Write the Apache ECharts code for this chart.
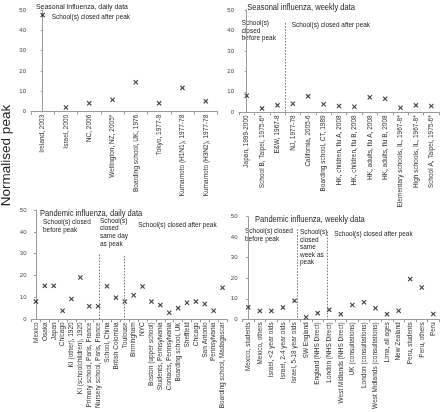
<!DOCTYPE html>
<html><head><meta charset="utf-8">
<script src="https://cdn.jsdelivr.net/npm/echarts@6/dist/echarts.min.js"></script>
<style>html,body{margin:0;padding:0;background:#fff}#c{width:440px;height:412px}</style>
</head><body><div id="c"></div>
<script>
// ---------- data ----------
const seasonalDailyCats = ["Ireland, 2003","Israel, 2000","NC, 2006","Wellington, NZ, 2005*","Boarding school, UK, 1976","Tokyo, 1977-8","Kumamoto (H1N1), 1977-78","Kumamoto (H3N2), 1977-78"];
const seasonalDailyVals = [47.5, 2.1, 4.1, 5.9, 14.5, 4.1, 11.7, 5.1];

const seasonalWeeklyCats = ["Japan, 1999-2000","School B, Taipei, 1975-6*","E&W, 1967-8","NJ, 1977-78","California, 2005-6","Boarding school, CT, 1989","HK, children, flu A, 2008","HK, children, flu B, 2008","HK, adults, flu A, 2008","HK, adults, flu B, 2008","Elementary schools, IL, 1967-8*","High schools, IL, 1967-8*","School A, Taipei, 1975-6*"];
const seasonalWeeklyVals = [8.1, 1.9, 3.4, 4.2, 7.8, 3.9, 3.1, 2.7, 7.3, 6.6, 2.2, 3.4, 3.1];

const pandemicDailyCats = ["Mexico","Osaka","Japan","Chicago","KI (other), 1920","KI (schoolchildren), 1920","Primary school, Paris, France","Nursery school, Paris, France","School, China","British Colombia","Toulouse","Birmingham","NYC","Boston (upper school)","Students, Pennsylvania","Contacts, Pennsylvania","Boarding school, UK","Sheffield","Chicago","San Antonio","Pennsylvania","Boarding school, Madagascar"];
const pandemicDailyVals = [8.1, 15.3, 15.3, 3.9, 9.3, 19.1, 6.0, 6.0, 15.1, 9.9, 8.1, 11.0, 15.0, 8.1, 6.5, 3.0, 5.1, 7.6, 8.1, 7.0, 3.9, 14.4];

const pandemicWeeklyCats = ["Mexico, students","Mexico, others","Israel, <2 year olds","Israel, 2-4 year olds","Israel, 5-18 year olds","SW England","England (NHS Direct)","London (NHS Direct)","West Midlands (NHS Direct)","UK (consultations)","London (consultations)","West Midlands (consultations)","Lima, all ages","New Zealand","Peru, students","Peru, others","Peru"];
const pandemicWeeklyVals = [5.9, 4.1, 4.1, 5.7, 9.0, 1.0, 3.0, 4.6, 2.5, 7.0, 8.3, 5.4, 2.5, 4.2, 19.6, 15.5, 2.6];

const yTicks = [0, 10, 20, 30, 40, 50];

// group dividers: [position in category units, top value]
const seasonalWeeklyDividers = [[2.5, 43.6]];
const pandemicDailyDividers = [[7.1, 29.6], [9.94, 29.0]];
const pandemicWeeklyDividers = [[4.27, 43.9], [6.83, 42.7]];

// ---------- chart ----------
const FONT = '"Liberation Sans", Arial, sans-serif';
const xMark = 'path://M0,1.6L1.6,0L5,3.4L8.4,0L10,1.6L6.6,5L10,8.4L8.4,10L5,6.6L1.6,10L0,8.4L3.4,5Z';

const grids = [
  {left: 31, top: 10, width: 186.4, height: 101.7},
  {left: 239, top: 10, width: 200, height: 102.3},
  {left: 31.5, top: 210, width: 195.5, height: 109.3},
  {left: 242.5, top: 216.7, width: 196.6, height: 102.6}
];
const cats = [seasonalDailyCats, seasonalWeeklyCats, pandemicDailyCats, pandemicWeeklyCats];
const vals = [seasonalDailyVals, seasonalWeeklyVals, pandemicDailyVals, pandemicWeeklyVals];
const dividers = [[], seasonalWeeklyDividers, pandemicDailyDividers, pandemicWeeklyDividers];

const xAxes = [], yAxes = [], series = [];
cats.forEach((c, i) => {
  xAxes.push({
    type: 'category', gridIndex: i, data: c, boundaryGap: true,
    axisLine: {lineStyle: {color: '#9a9a9a', width: 1}},
    axisTick: {show: true, length: 3, lineStyle: {color: '#9a9a9a'}},
    axisLabel: {interval: 0, rotate: 90, fontSize: 6.5, color: '#333', margin: 3, fontFamily: FONT}
  });
  yAxes.push({
    type: 'value', gridIndex: i, min: yTicks[0], max: yTicks[yTicks.length - 1], interval: 10,
    splitLine: {show: false},
    axisLine: {show: true, lineStyle: {color: '#9a9a9a', width: 1}},
    axisTick: {show: true, length: 2, lineStyle: {color: '#9a9a9a'}},
    axisLabel: {fontSize: 6, color: '#444', margin: 5, fontFamily: FONT}
  });
  series.push({
    type: 'scatter', xAxisIndex: i, yAxisIndex: i, data: vals[i],
    symbol: xMark, symbolSize: 5, itemStyle: {color: '#111'}, silent: true
  });
});
// hidden value axes for group dividers
cats.forEach((c, i) => {
  xAxes.push({type: 'value', gridIndex: i, min: -0.5, max: c.length - 0.5, show: false});
  if (dividers[i].length) {
    series.push({
      type: 'line', xAxisIndex: 4 + i, yAxisIndex: i, data: [], silent: true,
      markLine: {
        silent: true, symbol: 'none', label: {show: false},
        lineStyle: {type: [1.5, 1.5], color: '#777', width: 1},
        data: dividers[i].map(d => [{coord: [d[0], d[1]]}, {coord: [d[0], 0]}])
      }
    });
  }
});

function txt(x, y, t, size, lh, opts) {
  return Object.assign({
    type: 'text', x: x, y: y, scaleX: 0.9, silent: true,
    style: {text: t, fontSize: size, fontFamily: FONT, fill: '#222', lineHeight: lh || size * 1.1,
            align: 'left', verticalAlign: 'top'}
  }, opts || {});
}
const T = 8.4, A = 7.2, LH = 7.6;
const graphics = [
  txt(36, 2.8, 'Seasonal influenza, daily data', 7.7, 9),
  txt(51.7, 13, 'School(s) closed after peak', A, LH),
  txt(247.3, 2.8, 'Seasonal influenza, weekly data', T, 9),
  txt(241.7, 19.5, 'School(s)\nclosed\nbefore peak', A, LH),
  txt(291.7, 21.2, 'School(s) closed after peak', A, LH),
  txt(40, 209.5, 'Pandemic influenza, daily data', T, 9),
  txt(43, 218.5, 'School(s) closed\nbefore peak', A, LH),
  txt(100, 217, 'School(s)\nclosed\nsame day\nas peak', A, LH),
  txt(138.3, 221.2, 'School(s) closed after peak', A, LH),
  txt(255, 214.8, 'Pandemic influenza, weekly data', T, 9),
  txt(245, 227.2, 'School(s) closed\nbefore peak', A, LH),
  txt(300, 228.2, 'School(s)\nclosed\nsame\nweek as\npeak', A, LH),
  txt(334.3, 230.2, 'School(s) closed after peak', A, LH),
  {type: 'text', x: 6.5, y: 155.5, rotation: Math.PI / 2, silent: true,
   style: {text: 'Normalised peak', fontSize: 13.5, fontFamily: FONT, fill: '#222', align: 'center', verticalAlign: 'middle'}}
];

const chart = echarts.init(document.getElementById('c'), null, {renderer: 'canvas'});
chart.setOption({
  animation: false,
  backgroundColor: '#fff',
  grid: grids.map(g => Object.assign({containLabel: false, outerBoundsMode: 'none'}, g)),
  xAxis: xAxes,
  yAxis: yAxes,
  series: series,
  graphic: graphics
});
</script>
</body></html>
